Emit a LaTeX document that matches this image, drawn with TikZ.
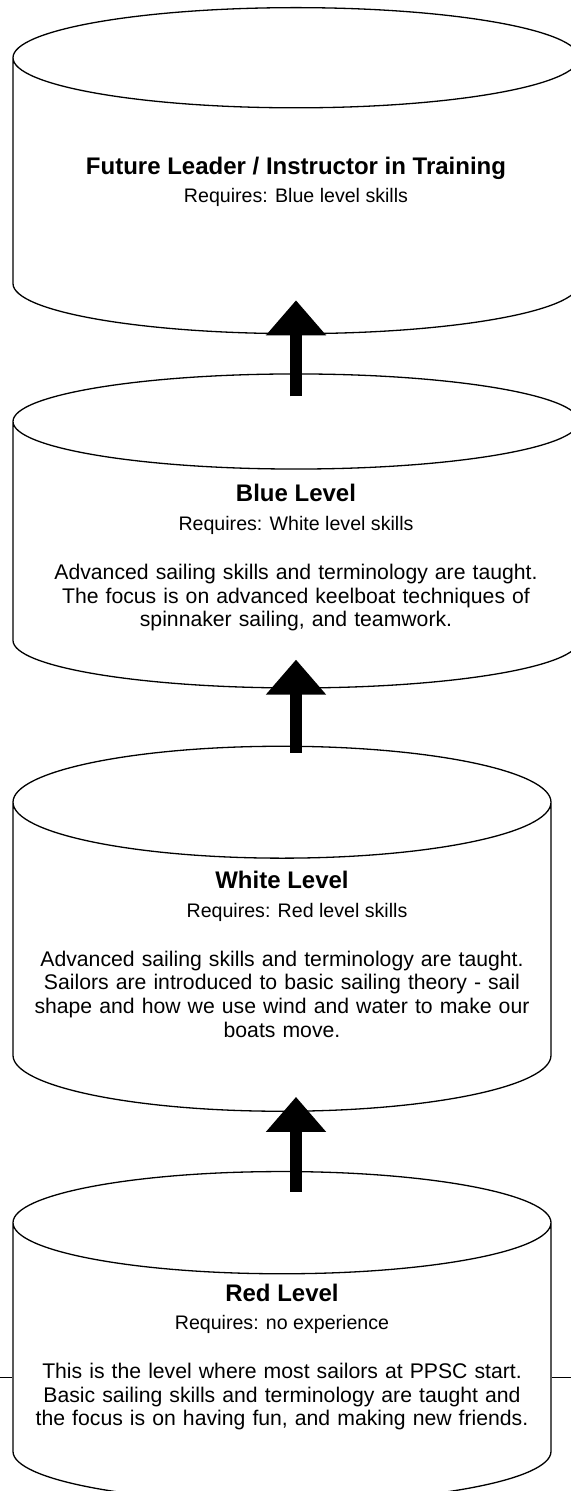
\documentclass[tikz,border=0pt]{standalone}
\usepackage{fontspec}
\setmainfont{Liberation Sans}
\usetikzlibrary{arrows.meta,positioning,shapes.geometric}
\tikzset{
	% level cylinder
	level/.style={
		cylinder, shape border rotate=90,
		draw=black, line width=0.65pt, fill=white,
		inner ysep=0pt
	},
	% level name
	head/.style={
		anchor=base, inner sep=0pt,
		font=\bfseries\fontsize{12}{14}\selectfont
	},
	% requirement line
	req/.style={
		anchor=base, inner sep=0pt,
		font=\fontsize{9.8}{12}\selectfont
	},
	% description text
	body/.style={
		anchor=base, inner sep=0pt,
		align=center, text width=270pt,
		font=\fontsize{10.6}{11.85}\selectfont
	},
	% arrow style
	arrow/.style={
		-{Triangle[width=29pt,length=17.5pt]},
		line width=6pt
	}
}
\begin{document}
\begin{tikzpicture}[x=0.5pt, y=-0.5pt]
	\useasboundingbox (0,0) rectangle (571,1491);

	\node[level, inner xsep=141.5pt, minimum height=163pt, shape aspect=0.177,
		anchor=north] (future) at (296,7) {};
	\node[level, inner xsep=141.5pt, minimum height=157pt, shape aspect=0.168,
		below=19.5pt of future] (blue) {};
	\node[level, inner xsep=134.5pt, minimum height=182.5pt, shape aspect=0.208,
		below=28.5pt of blue, xshift=-7pt] (white) {};
	\node[level, inner xsep=134.5pt, minimum height=165.5pt, shape aspect=0.19,
		below=29.5pt of white] (red) {};

	% line behind the red level
	\coordinate (edgeL) at (0,1377.7);
	\coordinate (edgeR) at (571,1377.7);
	\draw[line width=0.65pt] (edgeL) -- (edgeL -| red.west);
	\draw[line width=0.65pt] (edgeR) -- (edgeR -| red.east);

	\node[head] (futurehead) at (296,175) {Future Leader / Instructor in Training};
	\node[req] (futurereq) at (296,203) {Requires: Blue level skills};

	\node[head] (bluehead) at (296,501.7) {Blue Level};
	\node[req] (bluereq) at (296,530.7) {Requires: White level skills};
	\node[body] (bluebody) at (296,579.3)
		{Advanced sailing skills and terminology are taught.\\
		The focus is on advanced keelboat techniques of\\
		spinnaker sailing, and teamwork.};

	\node[head] (whitehead) at (282,888.3) {White Level};
	\node[req] (whitereq) at (297,917.3) {Requires: Red level skills};
	\node[body] (whitebody) at (282,966)
		{Advanced sailing skills and terminology are taught.\\
		Sailors are introduced to basic sailing theory - sail\\
		shape and how we use wind and water to make our\\
		boats move.};

	\node[head] (redhead) at (282,1301.7) {Red Level};
	\node[req] (redreq) at (282,1329.3) {Requires: no experience};
	\node[body] (redbody) at (282,1378.3)
		{This is the level where most sailors at PPSC start.\\
		Basic sailing skills and terminology are taught and\\
		the focus is on having fun, and making new friends.};

	\draw[arrow] ([yshift=-11.5pt]blue.north) -- ([yshift=17pt]future.south);
	\draw[arrow] ([xshift=7pt,yshift=-3.5pt]white.north) -- ([yshift=14.5pt]blue.south);
	\draw[arrow] ([xshift=7pt,yshift=-10.5pt]red.north) -- ([xshift=7pt,yshift=7.5pt]white.south);
\end{tikzpicture}
\end{document}
